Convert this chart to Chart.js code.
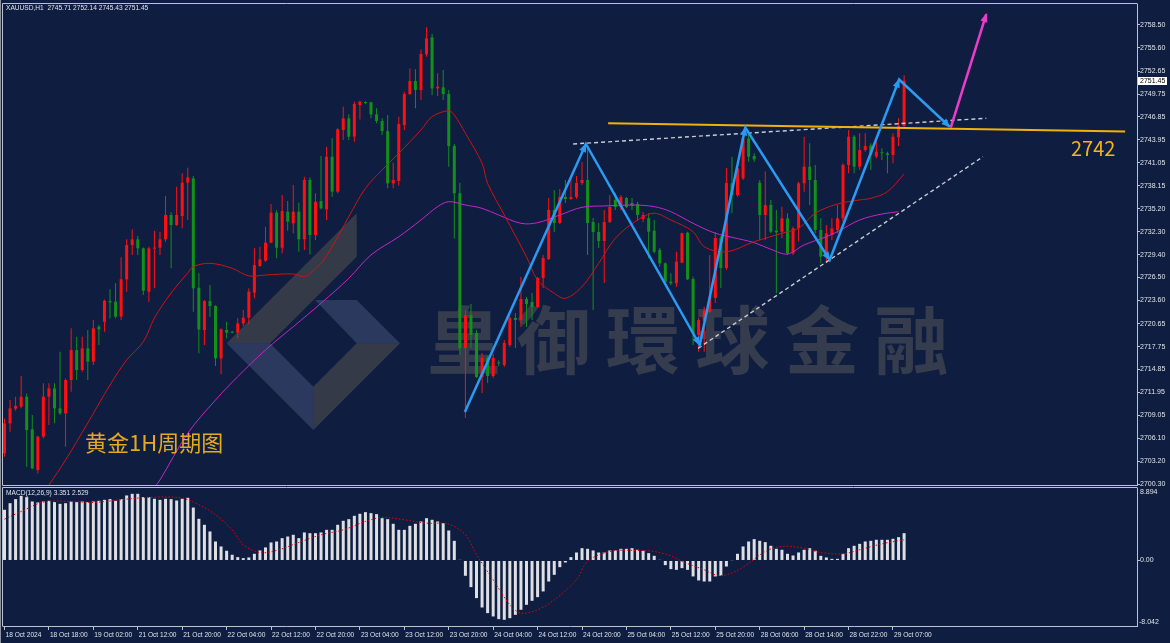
<!DOCTYPE html>
<html>
<head>
<meta charset="utf-8">
<title>XAUUSD H1</title>
<script src="https://cdn.jsdelivr.net/npm/chart.js@4.4.1/dist/chart.umd.min.js"></script>
<style>
  html, body { margin: 0; padding: 0; background: #0f1e40; }
  #wrap { position: relative; width: 1170px; height: 643px; overflow: hidden; background: #0f1e40; }
  canvas { position: absolute; left: 0; }
  #mainChart { top: 0; }
  #macdChart { top: 486px; }
</style>
</head>
<body>
<div id="wrap">
  <canvas id="mainChart" width="1170" height="490"></canvas>
  <canvas id="macdChart" width="1170" height="157"></canvas>
</div>
<script>
// ---- data ----
const priceTicks = [2758.50, 2755.60, 2752.65, 2749.75, 2746.85, 2743.95, 2741.05, 2738.15, 2735.20, 2732.30,
    2729.40, 2726.50, 2723.60, 2720.65, 2717.75, 2714.85, 2711.95, 2709.05, 2706.10, 2703.20, 2700.30];
const timeLabels = ['18 Oct 2024', '18 Oct 18:00', '19 Oct 02:00', '21 Oct 12:00', '21 Oct 20:00', '22 Oct 04:00',
    '22 Oct 12:00', '22 Oct 20:00', '23 Oct 04:00', '23 Oct 12:00', '23 Oct 20:00', '24 Oct 04:00', '24 Oct 12:00',
    '24 Oct 20:00', '25 Oct 04:00', '25 Oct 12:00', '25 Oct 20:00', '28 Oct 06:00', '28 Oct 14:00', '28 Oct 22:00',
    '29 Oct 07:00'];
const timeTickBars = [0, 8, 16, 24, 32, 40, 48, 56, 64, 72, 80, 88, 96, 104, 112, 120, 128, 136, 144, 152, 160];

const opens = [2704.22,2708.02,2709.88,2710.13,2711.40,2707.26,2702.11,2706.33,2711.40,2712.46,
    2709.92,2709.29,2713.51,2717.31,2714.78,2717.52,2715.84,2720.27,2720.90,2723.52,
    2723.44,2721.54,2726.27,2730.62,2731.34,2730.20,2724.71,2730.16,2730.28,2731.34,
    2734.42,2733.15,2734.29,2738.52,2739.07,2725.21,2719.85,2723.52,2722.89,2716.26,
    2719.85,2719.64,2719.51,2720.69,2721.41,2724.58,2727.96,2728.63,2730.92,2734.72,
    2730.28,2734.84,2733.37,2734.84,2731.34,2738.86,2731.89,2736.19,2735.14,2741.81,
    2737.38,2745.19,2746.67,2744.35,2748.36,2748.74,2748.70,2747.18,2746.33,2745.06,
    2738.43,2738.73,2745.82,2749.75,2751.40,2750.26,2754.78,2756.93,2750.47,2750.60,
    2749.75,2743.16,2737.17,2717.57,2721.75,2719.47,2713.90,2716.30,2714.02,2715.70,
    2715.42,2717.95,2721.37,2721.12,2723.78,2723.40,2722.77,2726.44,2728.85,2735.06,
    2733.41,2736.71,2736.45,2736.71,2738.48,2738.86,2733.54,2732.27,2731.13,2733.54,
    2736.33,2735.44,2736.58,2735.95,2735.82,2733.92,2734.01,2732.44,2729.99,2728.30,
    2725.97,2725.77,2728.38,2732.18,2726.32,2719.22,2721.03,2722.13,2723.91,2731.51,
    2727.71,2738.44,2736.96,2739.07,2744.14,2741.90,2738.52,2734.43,2735.69,2732.44,
    2732.31,2734.00,2729.57,2732.73,2738.44,2740.55,2738.86,2732.52,2729.15,2731.89,
    2732.52,2734.00,2740.76,2744.35,2740.55,2742.66,2743.21,2741.82,2742.37,2742.24,
    2742.03,2744.27,2745.71];
const highs = [2708.65,2710.97,2711.40,2714.02,2711.82,2709.08,2706.45,2713.09,2713.09,2713.09,
    2717.10,2713.72,2720.06,2719.00,2719.00,2719.85,2721.11,2720.48,2723.73,2725.00,
    2725.76,2729.06,2731.34,2732.60,2731.76,2730.30,2730.41,2732.39,2732.31,2736.83,
    2734.76,2738.01,2739.70,2740.42,2739.36,2727.03,2723.65,2725.55,2723.00,2720.06,
    2720.90,2719.72,2721.33,2722.38,2725.13,2730.20,2730.41,2732.94,2735.81,2735.06,
    2736.95,2736.19,2738.22,2735.98,2739.28,2739.19,2737.17,2741.90,2743.08,2744.14,
    2745.40,2748.15,2747.18,2748.78,2748.90,2748.82,2748.78,2747.94,2746.67,2747.09,
    2741.05,2746.88,2750.05,2753.00,2752.88,2755.41,2758.20,2757.36,2752.37,2752.79,
    2750.26,2743.42,2738.52,2722.39,2723.15,2719.85,2716.94,2716.56,2716.81,2716.00,
    2718.59,2721.63,2722.01,2726.57,2724.04,2724.54,2726.57,2729.36,2736.58,2737.59,
    2737.72,2738.86,2739.11,2739.37,2741.14,2743.29,2734.05,2733.41,2735.06,2736.96,
    2737.21,2736.96,2736.71,2736.58,2736.11,2734.80,2734.64,2733.79,2730.24,2728.40,
    2727.04,2729.77,2732.18,2732.31,2726.61,2721.37,2722.81,2729.36,2732.27,2731.77,
    2740.38,2741.82,2740.55,2744.35,2744.77,2742.24,2738.86,2739.92,2736.33,2735.06,
    2735.48,2734.64,2732.95,2738.65,2744.35,2743.51,2740.76,2734.00,2733.16,2734.00,
    2735.69,2740.97,2745.20,2744.56,2744.77,2744.77,2743.51,2744.35,2742.87,2742.45,
    2744.77,2746.67,2752.14];
const lows = [2703.80,2706.96,2709.62,2709.92,2702.53,2702.20,2701.68,2706.12,2707.81,2708.02,
    2709.08,2705.06,2712.03,2713.51,2714.57,2713.51,2715.41,2717.95,2719.64,2721.33,
    2721.33,2721.11,2724.71,2729.35,2729.35,2724.28,2723.44,2725.13,2729.35,2731.04,
    2727.66,2733.03,2732.73,2733.79,2722.17,2716.89,2717.95,2721.54,2715.28,2714.23,
    2718.80,2719.43,2718.80,2720.35,2720.61,2723.86,2727.87,2728.51,2730.83,2728.93,
    2729.56,2732.43,2732.10,2729.77,2729.98,2729.43,2731.25,2735.14,2733.79,2736.74,
    2737.17,2743.92,2743.92,2743.71,2746.54,2748.50,2746.67,2746.04,2744.56,2737.80,
    2737.80,2738.14,2745.19,2749.63,2747.94,2748.99,2754.48,2749.63,2749.50,2748.99,
    2740.54,2731.46,2716.69,2708.70,2717.57,2713.77,2711.87,2713.14,2713.77,2715.30,
    2715.17,2717.70,2717.57,2720.23,2720.23,2721.12,2722.64,2725.18,2728.72,2732.27,
    2733.28,2735.95,2736.33,2736.45,2738.23,2729.36,2722.39,2730.24,2725.81,2733.41,
    2735.06,2735.06,2735.31,2735.06,2733.70,2733.50,2728.94,2729.57,2727.87,2725.55,
    2725.55,2725.34,2728.30,2726.19,2717.95,2717.10,2717.10,2722.01,2723.28,2725.18,
    2727.50,2734.64,2736.75,2738.86,2741.18,2741.18,2731.26,2731.26,2732.10,2724.50,
    2731.47,2729.36,2729.36,2731.05,2737.38,2735.69,2732.10,2728.30,2728.30,2731.26,
    2732.10,2733.58,2739.70,2739.70,2740.13,2742.45,2740.13,2741.61,2741.40,2739.70,
    2740.97,2743.17,2745.43];
const closes = [2708.02,2709.92,2710.22,2711.40,2707.18,2702.32,2706.33,2711.40,2712.46,2709.92,
    2709.29,2713.51,2717.31,2714.78,2717.52,2715.84,2720.06,2719.93,2723.56,2723.35,
    2721.54,2726.27,2730.62,2731.34,2730.20,2724.83,2730.20,2730.28,2731.34,2734.42,
    2733.15,2734.42,2738.52,2739.19,2725.13,2719.93,2723.52,2722.89,2716.26,2719.93,
    2719.51,2719.51,2720.69,2721.41,2724.71,2728.08,2728.80,2730.92,2734.72,2730.28,
    2734.93,2733.58,2734.84,2731.34,2738.86,2731.89,2736.11,2735.26,2741.81,2737.38,
    2745.28,2746.67,2744.35,2748.49,2748.78,2748.61,2747.18,2746.33,2745.06,2738.43,
    2738.86,2745.95,2749.75,2751.40,2750.26,2754.82,2756.81,2750.47,2750.68,2749.75,
    2743.16,2737.17,2717.53,2721.75,2719.22,2713.90,2716.30,2714.02,2716.30,2715.62,
    2718.21,2721.37,2721.12,2723.78,2723.15,2722.77,2726.44,2728.98,2735.06,2733.41,
    2736.71,2736.45,2736.71,2738.48,2738.86,2733.41,2732.27,2731.13,2733.54,2735.44,
    2735.44,2736.71,2735.44,2735.57,2734.42,2734.42,2732.31,2729.77,2728.30,2725.97,
    2725.77,2728.51,2732.11,2726.28,2719.47,2721.12,2722.30,2724.03,2731.51,2727.71,
    2738.48,2736.96,2740.34,2744.14,2741.82,2741.48,2734.43,2735.69,2732.31,2732.23,
    2734.00,2729.57,2732.73,2738.44,2740.55,2738.86,2732.52,2729.15,2732.10,2732.73,
    2734.00,2740.76,2744.35,2740.55,2742.66,2743.17,2742.03,2742.45,2742.24,2742.03,
    2744.35,2745.71,2751.45];

// moving averages (read at sample bars)
const maFastBars = [8, 11, 15, 19, 22, 25, 27, 30, 33, 34, 37, 41, 44, 47, 52, 54, 55, 57, 59, 62, 65, 68, 71, 75,
    77, 80, 81, 83, 86, 87, 90, 94, 96, 99, 101, 104, 107, 110, 114, 117, 120, 124, 126, 130, 135, 140, 143, 146,
    150, 154, 156, 159, 162];
const maFastVals = [2700.2, 2703.38, 2708.07, 2712.88, 2716.05, 2718.37, 2721.37, 2724.54, 2727.08, 2727.87, 2728.30,
    2727.67, 2726.70, 2726.82, 2726.95, 2726.61, 2727.04, 2728.30, 2730.41, 2734.21, 2737.81, 2740.13, 2742.24,
    2745.20, 2746.88, 2747.64, 2747.10, 2744.78, 2740.98, 2738.44, 2734.42, 2729.14, 2726.19, 2724.50, 2723.87,
    2725.34, 2728.30, 2731.47, 2733.79, 2734.64, 2733.79, 2732.31, 2730.41, 2729.77, 2731.04, 2732.11, 2732.74,
    2734.64, 2735.82, 2736.33, 2736.54, 2737.38, 2739.62];
const maSlowBars = [27, 28, 33, 38, 42, 47, 52, 57, 62, 66, 71, 75, 78, 80, 83, 86, 89, 93, 96, 100, 104, 108, 113,
    117, 120, 124, 128, 131, 135, 138, 141, 144, 148, 150, 154, 158, 161];
const maSlowVals = [2699.9, 2700.85, 2706.76, 2710.98, 2713.94, 2717.32, 2720.27, 2723.24, 2726.40, 2729.36, 2731.67,
    2733.79, 2735.48, 2736.11, 2735.69, 2735.27, 2734.42, 2733.37, 2733.45, 2734.42, 2735.40, 2735.57, 2735.69,
    2735.48, 2734.84, 2733.37, 2732.11, 2731.60, 2730.92, 2730.08, 2729.48, 2730.63, 2731.67, 2732.31, 2733.79,
    2734.55, 2734.84];

// MACD(12,26,9)
const macdHist = [6.22, 7.03, 7.53, 7.93, 7.77, 7.24, 7.12, 7.24, 7.32, 7.16,
    6.95, 7.03, 7.24, 7.16, 7.24, 7.16, 7.24, 7.32, 7.44, 7.53,
    7.32, 7.53, 7.98, 8.18, 8.18, 7.77, 7.77, 7.57, 7.44, 7.57,
    7.53, 7.36, 7.57, 7.69, 6.50, 5.11, 4.38, 3.56, 2.33, 1.72,
    1.19, 0.70, 0.41, 0.29, 0.37, 0.82, 1.23, 1.60, 2.21, 2.33,
    2.74, 2.94, 3.15, 2.74, 3.44, 3.35, 3.35, 3.44, 3.76, 3.76,
    4.38, 4.87, 5.07, 5.48, 5.73, 5.93, 5.81, 5.69, 5.19, 5.07,
    4.50, 3.76, 3.76, 4.25, 4.50, 4.79, 5.19, 4.99, 4.79, 4.58,
    3.68, 2.41, 0.08, -1.88, -3.27, -4.62, -5.77, -6.46, -6.87, -7.20,
    -7.28, -7.08, -6.67, -6.05, -5.44, -4.95, -4.50, -3.80, -2.58, -1.76,
    -0.82, -0.25, 0.41, 0.98, 1.51, 1.43, 1.23, 0.98, 0.98, 1.23,
    1.23, 1.43, 1.43, 1.51, 1.31, 1.19, 0.90, 0.57, 0.08, -0.57,
    -1.06, -1.15, -0.94, -1.15, -1.96, -2.45, -2.58, -2.58, -1.96, -1.88,
    -0.74, -0.04, 0.82, 1.72, 2.33, 2.62, 2.41, 2.25, 1.80, 1.43,
    1.31, 0.82, 0.61, 0.98, 1.31, 1.51, 1.19, 0.57, 0.37, 0.20,
    0.20, 0.82, 1.51, 1.80, 2.04, 2.33, 2.41, 2.54, 2.54, 2.54,
    2.66, 2.86, 3.35];
const signalBars = [0, 3, 7, 12, 16, 22, 27, 32, 35, 38, 41, 43, 46, 49, 53, 57, 61, 65, 68, 72, 76, 80, 83, 85, 88,
    91, 93, 96, 99, 103, 105, 109, 114, 117, 120, 122, 126, 128, 130, 133, 137, 140, 144, 147, 151, 154, 158, 162];
const signalVals = [5.07, 6.01, 7.16, 7.24, 7.12, 7.53, 7.77, 7.65, 6.83, 5.60, 3.76, 1.92, 0.98, 1.23, 2.21, 3.15,
    3.76, 4.79, 5.28, 4.99, 4.58, 4.46, 3.15, 0.70, -2.37, -5.44, -6.46, -6.05, -4.83, -2.37, -0.12, 1.10, 1.23,
    1.10, 0.57, -0.12, -1.15, -1.76, -1.76, -0.82, 1.10, 1.72, 1.51, 0.98, 0.82, 1.31, 2.04, 2.53];
const macdLast = 3.351, signalLast = 2.529;
const macdMax = 8.894, macdMin = -8.042;

// hand-drawn objects on the chart (bar index, price)
const zigBars = [82.9, 104.7, 125.2, 133.4, 148.6, 161.1, 170.2];
const zigPrices = [2709.46, 2743.42, 2717.95, 2745.51, 2728.72, 2751.59, 2745.61];
const pinkBars = [170.4, 176.8];
const pinkPrices = [2745.51, 2759.89];
const resistBars = [108.7, 201.8];
const resistPrices = [2746.04, 2745.00];
const upperDashBars = [102.4, 176.8];
const upperDashPrices = [2743.42, 2746.68];
const lowerDashBars = [124.9, 176.2];
const lowerDashPrices = [2717.53, 2741.81];
const levelText = '2742';
const titleText = '黄金1H周期图';
const watermark = '皇御環球金融';

// ---- styling ----
const X_MIN = -0.27, X_MAX = 203.94;
const BULL = '#ff1010', BEAR = '#12901a';
const FRAME = '#bcc3cf', LABEL = '#dfe3ea';
Chart.defaults.font.family = '"Liberation Sans", Arial, sans-serif';

const pts = (xs, ys) => xs.map((x, i) => ({x: x, y: ys[i]}));
const candleColors = closes.map((c, i) => c >= opens[i] ? BULL : BEAR);
const noPad = s => { s.paddingLeft = 0; s.paddingRight = 0; s.paddingTop = 0; s.paddingBottom = 0; };

function lineSet(data, color, width, extra) {
    return Object.assign({
        type: 'line', data: data, borderColor: color, borderWidth: width,
        pointRadius: 0, fill: false, tension: 0
    }, extra || {});
}

function arrowHead(ctx, x0, y0, x1, y1, color) {
    const ang = Math.atan2(y1 - y0, x1 - x0);
    ctx.save();
    ctx.translate(x1, y1);
    ctx.rotate(ang);
    ctx.fillStyle = color;
    ctx.beginPath();
    ctx.moveTo(1, 0);
    ctx.lineTo(-8, -3.6);
    ctx.lineTo(-8, 3.6);
    ctx.closePath();
    ctx.fill();
    ctx.restore();
}

const mainDecor = {
    id: 'mainDecor',
    beforeDatasetsDraw(chart) {
        const ctx = chart.ctx;
        ctx.save();
        // logo watermark
        const parts = [
            {c: 'rgba(85,82,80,0.55)', p: [[226.7, 343.3], [356.7, 213.3], [356.7, 256.7], [270, 343.3]]},
            {c: 'rgba(95,110,150,0.35)', p: [[226.7, 343.3], [270, 343.3], [313.3, 386.7], [313.3, 430]]},
            {c: 'rgba(85,82,80,0.55)', p: [[313.3, 386.7], [356.7, 343.3], [400, 343.3], [313.3, 430]]},
            {c: 'rgba(95,110,150,0.35)', p: [[315, 300], [356.7, 300], [400, 343.3], [356.7, 343.3]]}
        ];
        parts.forEach(part => {
            ctx.fillStyle = part.c;
            ctx.beginPath();
            part.p.forEach((q, k) => k ? ctx.lineTo(q[0], q[1]) : ctx.moveTo(q[0], q[1]));
            ctx.closePath();
            ctx.fill();
        });
        // text watermark
        ctx.font = 'bold 74px "Noto Sans CJK TC"';
        ctx.fillStyle = 'rgba(108,102,98,0.42)';
        ctx.textBaseline = 'alphabetic';
        ctx.textAlign = 'left';
        [...watermark].forEach((ch, k) => ctx.fillText(ch, 427 + k * 89.5, 368));
        ctx.restore();
    },
    afterDatasetsDraw(chart) {
        const {ctx, scales: {x, y}} = chart;
        const px = (b, p) => [x.getPixelForValue(b), y.getPixelForValue(p)];
        for (let k = 1; k < zigBars.length; k++) {
            const a = px(zigBars[k - 1], zigPrices[k - 1]);
            const b = px(zigBars[k], zigPrices[k]);
            arrowHead(ctx, a[0], a[1], b[0], b[1], '#2b9af3');
        }
        const pa = px(pinkBars[0], pinkPrices[0]);
        const pb = px(pinkBars[1], pinkPrices[1]);
        arrowHead(ctx, pa[0], pa[1], pb[0], pb[1], '#ec3ccc');
    },
    afterDraw(chart) {
        const {ctx, chartArea: a, scales: {y}} = chart;
        ctx.save();
        // frame
        ctx.strokeStyle = FRAME;
        ctx.lineWidth = 1;
        ctx.beginPath();
        ctx.moveTo(a.left - 0.5, a.top - 0.5); ctx.lineTo(a.right + 0.5, a.top - 0.5);
        ctx.moveTo(a.left - 0.5, a.top - 0.5); ctx.lineTo(a.left - 0.5, a.bottom + 0.5);
        ctx.moveTo(a.left - 0.5, a.bottom + 0.5); ctx.lineTo(a.right + 0.5, a.bottom + 0.5);
        ctx.stroke();
        ctx.fillStyle = '#8c93a0';
        ctx.fillRect(0, 0, 1, chart.height);
        // info line
        ctx.fillStyle = LABEL;
        ctx.font = '6.6px "Liberation Sans"';
        ctx.textBaseline = 'middle';
        ctx.textAlign = 'left';
        const last = closes.length - 1;
        ctx.fillText('XAUUSD,H1  ' + [opens[last], highs[last], lows[last], closes[last]].map(v => v.toFixed(2)).join(' '), 6, 8.5);
        // texts
        ctx.textBaseline = 'alphabetic';
        ctx.fillStyle = '#f4b41a';
        ctx.font = '20px "Noto Sans CJK SC"';
        ctx.fillText(levelText, 1071, 156);
        ctx.fillStyle = '#e6a823';
        ctx.font = '22px "Noto Sans CJK SC"';
        ctx.fillText(titleText, 85, 451);
        // last price box
        const yy = Math.round(y.getPixelForValue(closes[last]));
        ctx.fillStyle = '#ffffff';
        ctx.fillRect(1138, yy - 4, 29, 8);
        ctx.fillStyle = '#000000';
        ctx.font = '7px "Liberation Sans"';
        ctx.textBaseline = 'middle';
        ctx.fillText(closes[last].toFixed(2), 1140, yy + 0.5);
        ctx.restore();
    }
};

new Chart(document.getElementById('mainChart'), {
    type: 'bar',
    data: {
        datasets: [
            {
                type: 'bar', order: 10, grouped: false, barThickness: 1, inflateAmount: 0,
                data: lows.map((l, i) => ({x: i, y: [l, highs[i]]})),
                backgroundColor: candleColors
            },
            {
                type: 'bar', order: 9, grouped: false, barThickness: 3, minBarLength: 1, inflateAmount: 0,
                data: opens.map((o, i) => ({x: i, y: [o, closes[i]]})),
                backgroundColor: candleColors
            },
            lineSet(pts(maFastBars, maFastVals), '#cc1414', 1, {order: 6, tension: 0.35}),
            lineSet(pts(maSlowBars, maSlowVals), '#c626c6', 1, {order: 6, tension: 0.35}),
            lineSet(pts(upperDashBars, upperDashPrices), '#c9ccd2', 1.4, {order: 4, borderDash: [4, 3]}),
            lineSet(pts(lowerDashBars, lowerDashPrices), '#c9ccd2', 1.4, {order: 4, borderDash: [4, 3]}),
            lineSet(pts(resistBars, resistPrices), '#f2b10a', 2, {order: 3}),
            lineSet(pts(zigBars, zigPrices), '#2b9af3', 2.5, {order: 2}),
            lineSet(pts(pinkBars, pinkPrices), '#ec3ccc', 2.5, {order: 1})
        ]
    },
    options: {
        responsive: false,
        animation: false,
        layout: {padding: {left: 3, top: 4, right: 0, bottom: 5}},
        plugins: {legend: {display: false}, tooltip: {enabled: false}},
        scales: {
            x: {type: 'linear', min: X_MIN, max: X_MAX, offset: false, display: false},
            y: {
                position: 'right', min: 2700.21, max: 2761.16,
                afterBuildTicks: s => { s.ticks = priceTicks.map(v => ({value: v})); },
                afterFit: s => { s.width = 33; noPad(s); },
                ticks: {color: LABEL, font: {size: 7}, padding: 0, autoSkip: false, callback: v => v.toFixed(2)},
                grid: {display: true, drawOnChartArea: false, drawTicks: true, tickLength: 3, color: FRAME},
                border: {display: true, color: FRAME}
            }
        }
    },
    plugins: [mainDecor]
});

const macdDecor = {
    id: 'macdDecor',
    afterDraw(chart) {
        const {ctx, chartArea: a, scales: {y}} = chart;
        ctx.save();
        ctx.strokeStyle = FRAME;
        ctx.lineWidth = 1;
        ctx.beginPath();
        ctx.moveTo(a.left - 0.5, a.top - 0.5); ctx.lineTo(a.right + 0.5, a.top - 0.5);
        ctx.moveTo(a.left - 0.5, a.top - 0.5); ctx.lineTo(a.left - 0.5, a.bottom + 0.5);
        ctx.stroke();
        ctx.fillStyle = '#8c93a0';
        ctx.fillRect(0, 0, 1, chart.height);
        ctx.fillStyle = LABEL;
        ctx.font = '6.6px "Liberation Sans"';
        ctx.textBaseline = 'middle';
        ctx.textAlign = 'left';
        ctx.fillText('MACD(12,26,9) ' + macdLast.toFixed(3) + ' ' + signalLast.toFixed(3), 6, 7);
        ctx.font = '7px "Liberation Sans"';
        ctx.fillText(macdMax.toFixed(3), 1140, y.getPixelForValue(macdMax) + 4);
        ctx.fillText(macdMin.toFixed(3), 1139, y.getPixelForValue(macdMin) - 3.5);
        ctx.restore();
    }
};

new Chart(document.getElementById('macdChart'), {
    type: 'bar',
    data: {
        datasets: [
            lineSet(pts(signalBars, signalVals), '#e60000', 1, {order: 1, borderDash: [1.5, 2], tension: 0.35}),
            {
                type: 'bar', order: 2, grouped: false, barThickness: 3, inflateAmount: 0,
                data: macdHist.map((v, i) => ({x: i, y: v})),
                backgroundColor: '#dedfe3'
            }
        ]
    },
    options: {
        responsive: false,
        animation: false,
        layout: {padding: {left: 3, top: 2, right: 0, bottom: 0}},
        plugins: {legend: {display: false}, tooltip: {enabled: false}},
        scales: {
            x: {
                type: 'linear', min: X_MIN, max: X_MAX, offset: false,
                afterBuildTicks: s => { s.ticks = timeTickBars.map(v => ({value: v})); },
                afterFit: s => { s.height = 17; noPad(s); },
                ticks: {color: LABEL, font: {size: 6.6}, padding: 1, align: 'start', labelOffset: 1,
                    autoSkip: false, maxRotation: 0, callback: (v, i) => timeLabels[i]},
                grid: {display: true, drawOnChartArea: false, drawTicks: true, tickLength: 4, color: FRAME, offset: false},
                border: {display: true, color: FRAME}
            },
            y: {
                position: 'right', min: macdMin, max: macdMax,
                afterBuildTicks: s => { s.ticks = [{value: 0}]; },
                afterFit: s => { s.width = 33; noPad(s); },
                ticks: {color: LABEL, font: {size: 7}, padding: 0, callback: v => v.toFixed(2)},
                grid: {display: true, drawOnChartArea: false, drawTicks: true, tickLength: 3, color: FRAME},
                border: {display: true, color: FRAME}
            }
        }
    },
    plugins: [macdDecor]
});
</script>
</body>
</html>
